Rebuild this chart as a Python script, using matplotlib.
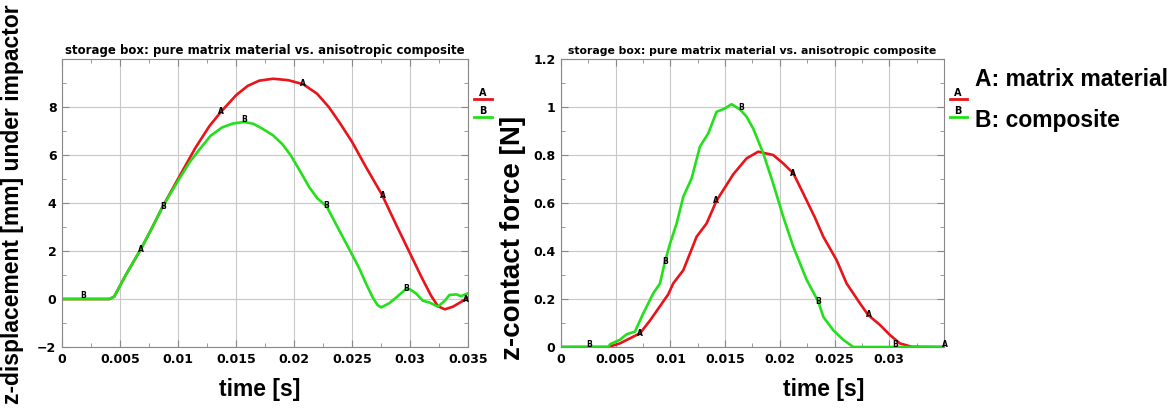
import numpy as np
import matplotlib.pyplot as plt
from matplotlib.ticker import MultipleLocator

# ---- data ----
# left panel: z-displacement [mm] under impactor
t_disp_a = [0.0, 0.0041, 0.0045, 0.0055, 0.0068, 0.0078, 0.0087, 0.0101, 0.0115, 0.0127,
            0.0137, 0.0150, 0.0160, 0.0170, 0.0182, 0.0195, 0.0208, 0.0220, 0.0230, 0.0240,
            0.0250, 0.0262, 0.0276, 0.0288, 0.0299, 0.0310, 0.0318, 0.0324, 0.0330, 0.0337,
            0.0344, 0.035]
disp_a = [0.0, 0.0, 0.1, 1.0, 2.08, 3.0, 3.87, 5.09, 6.3, 7.2,
          7.8, 8.49, 8.88, 9.1, 9.18, 9.12, 8.95, 8.55, 8.0, 7.3,
          6.55, 5.5, 4.33, 3.1, 2.0, 0.9, 0.15, -0.3, -0.43, -0.32,
          -0.12, 0.06]

t_disp_b = [0.0, 0.0041, 0.0045, 0.0055, 0.0068, 0.0078, 0.0087, 0.0101, 0.0110, 0.0118,
            0.0128, 0.0138, 0.0147, 0.0157, 0.0165, 0.0172, 0.0182, 0.0190, 0.0197, 0.0205,
            0.0213, 0.0220, 0.0228, 0.0238, 0.0248, 0.0256, 0.0262, 0.0268, 0.0272, 0.0275,
            0.0282, 0.0289, 0.0297, 0.0300, 0.0305, 0.0311, 0.0317, 0.0324, 0.0330, 0.0334,
            0.0340, 0.0344, 0.035]
disp_b = [0.0, 0.0, 0.1, 1.0, 2.08, 3.0, 3.87, 5.0, 5.7, 6.2,
          6.8, 7.15, 7.31, 7.38, 7.3, 7.12, 6.82, 6.45, 6.0, 5.35,
          4.67, 4.2, 3.87, 2.95, 2.04, 1.3, 0.65, 0.05, -0.25, -0.35,
          -0.18, 0.1, 0.44, 0.4, 0.24, -0.07, -0.15, -0.32, -0.07, 0.17,
          0.19, 0.12, 0.24]

# right panel: z-contact force [N]
t_force_a = [0.0, 0.00432, 0.00539, 0.0063, 0.00722, 0.00813, 0.00905, 0.00981, 0.01026, 0.01118,
             0.0124, 0.01331, 0.01422, 0.01575, 0.01696, 0.01803, 0.0194, 0.02031, 0.02123,
             0.02214, 0.0232, 0.02397, 0.02519, 0.0261, 0.02732, 0.02808, 0.02915, 0.03006,
             0.03097, 0.03204, 0.035]
force_a = [0.0, 0.0, 0.015, 0.036, 0.057, 0.11, 0.17, 0.22, 0.265, 0.32,
           0.46, 0.515, 0.61, 0.72, 0.786, 0.814, 0.8, 0.765, 0.724,
           0.64, 0.54, 0.46, 0.362, 0.265, 0.182, 0.133, 0.092, 0.05,
           0.015, 0.001, 0.0]

t_force_b = [0.0, 0.00432, 0.0045, 0.00539, 0.006, 0.00676, 0.00752, 0.00844, 0.00905, 0.0095,
             0.00996, 0.01057, 0.01118, 0.01194, 0.0127, 0.01346, 0.01422, 0.01498, 0.01559,
             0.01636, 0.01696, 0.01757, 0.01849, 0.0194, 0.02031, 0.02123, 0.02245, 0.02351,
             0.02397, 0.02488, 0.0258, 0.02671, 0.035]
force_b = [0.0, 0.0, 0.012, 0.03, 0.053, 0.064, 0.14, 0.224, 0.265, 0.355,
           0.43, 0.515, 0.626, 0.703, 0.835, 0.89, 0.98, 0.994, 1.012,
           0.99, 0.96, 0.91, 0.807, 0.68, 0.543, 0.418, 0.28, 0.19,
           0.126, 0.07, 0.03, 0.0, 0.0]

# curve point labels (gnuplot style)
disp_marks = [('B', 0.00178, 0.14), ('A', 0.00678, 2.08), ('B', 0.0087, 3.87), ('A', 0.0137, 7.8),
              ('B', 0.0157, 7.5), ('A', 0.0208, 8.97), ('B', 0.0228, 3.9), ('A', 0.0277, 4.3),
              ('B', 0.0297, 0.45), ('A', 0.0348, -0.02)]
force_marks = [('B', 0.00256, 0.011), ('A', 0.0072, 0.057), ('B', 0.0095, 0.355), ('A', 0.0142, 0.61),
               ('B', 0.0165, 1.0), ('A', 0.0212, 0.724), ('B', 0.0235, 0.19), ('A', 0.0281, 0.137),
               ('B', 0.0305, 0.011), ('A', 0.0351, 0.011)]

title = 'storage box: pure matrix material vs. anisotropic composite'
red = '#e8141a'
green = '#22e01a'

fig = plt.figure(figsize=(11.76, 4.09), dpi=100)
ax1 = fig.add_axes([0.0527, 0.1516, 0.3453, 0.704])
ax2 = fig.add_axes([0.4770, 0.1516, 0.3257, 0.704])


def style_axes(ax, title_size):
    ax.grid(True, which='major', color='#c8c8c8', linewidth=0.8)
    ax.set_axisbelow(True)
    for sp in ax.spines.values():
        sp.set_color('#888888')
        sp.set_linewidth(0.8)
    ax.tick_params(which='both', direction='in', colors='#888888', top=True, right=True,
                   labelcolor='black', labelsize=9, pad=4)
    ax.tick_params(which='major', length=5)
    ax.tick_params(which='minor', length=3)
    for lab in ax.get_xticklabels() + ax.get_yticklabels():
        lab.set_fontweight('bold')
    ax.set_title(title, fontsize=title_size, fontweight='bold', pad=4)


def small_legend(ax):
    for i, (nm, col) in enumerate([('A', red), ('B', green)]):
        yy = 0.86 - i * 0.062
        ax.plot([1.015, 1.06], [yy, yy], color=col, lw=2, transform=ax.transAxes, clip_on=False)
        ax.text(1.037, yy + 0.004, nm, transform=ax.transAxes, ha='center', va='bottom',
                fontsize=7, fontweight='bold')


# ---- left panel ----
ax1.plot(t_disp_a, disp_a, color=red, lw=1.9)
ax1.plot(t_disp_b, disp_b, color=green, lw=1.9)
for nm, x, y in disp_marks:
    ax1.text(x, y, nm, fontsize=5.5, fontweight='bold', ha='center', va='center')
ax1.set_xlim(0, 0.035)
ax1.set_ylim(-2, 10)
ax1.set_xticks([0, 0.005, 0.01, 0.015, 0.02, 0.025, 0.03, 0.035])
ax1.set_xticklabels(['0', '0.005', '0.01', '0.015', '0.02', '0.025', '0.03', '0.035'])
ax1.set_yticks([-2, 0, 2, 4, 6, 8])
ax1.xaxis.set_minor_locator(MultipleLocator(0.0025))
ax1.yaxis.set_minor_locator(MultipleLocator(1))
style_axes(ax1, 8.5)
small_legend(ax1)

# ---- right panel ----
ax2.plot(t_force_a, force_a, color=red, lw=1.9)
ax2.plot(t_force_b, force_b, color=green, lw=1.9)
for nm, x, y in force_marks:
    ax2.text(x, y, nm, fontsize=5.5, fontweight='bold', ha='center', va='center')
ax2.set_xlim(0, 0.035)
ax2.set_ylim(0, 1.2)
ax2.set_xticks([0, 0.005, 0.01, 0.015, 0.02, 0.025, 0.03])
ax2.set_xticklabels(['0', '0.005', '0.01', '0.015', '0.02', '0.025', '0.03'])
ax2.set_yticks([0, 0.2, 0.4, 0.6, 0.8, 1.0, 1.2])
ax2.set_yticklabels(['0', '0.2', '0.4', '0.6', '0.8', '1', '1.2'])
ax2.xaxis.set_minor_locator(MultipleLocator(0.0025))
ax2.yaxis.set_minor_locator(MultipleLocator(0.1))
style_axes(ax2, 7.8)
small_legend(ax2)

# ---- big labels ----
lab_font = dict(family='Liberation Sans', fontweight='bold', color='black')
fig.text(0.0105, 0.5, 'z-displacement [mm] under impactor', rotation=90, ha='center', va='center',
         fontsize=16.5, **lab_font)
fig.text(0.4365, 0.418, 'z-contact force [N]', rotation=90, ha='center', va='center',
         fontsize=20, **lab_font)
fig.text(0.221, 0.048, 'time [s]', ha='center', va='center', fontsize=16.5, **lab_font)
fig.text(0.700, 0.048, 'time [s]', ha='center', va='center', fontsize=16.5, **lab_font)
fig.text(0.829, 0.805, 'A: matrix material', ha='left', va='center', fontsize=16.5, **lab_font)
fig.text(0.829, 0.706, 'B: composite', ha='left', va='center', fontsize=16.5, **lab_font)

fig.savefig('out.png', dpi=100)
